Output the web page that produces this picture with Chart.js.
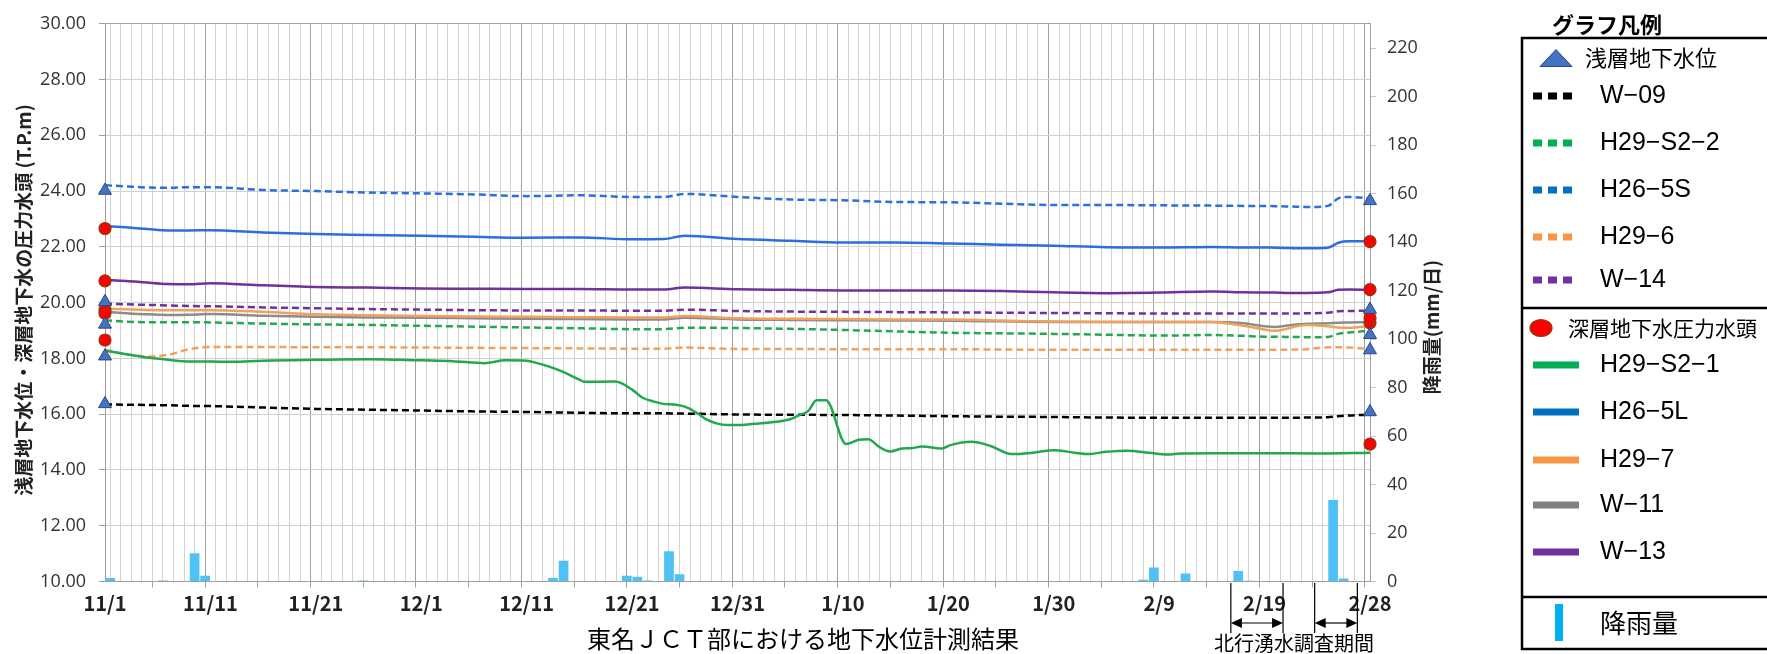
<!DOCTYPE html>
<html><head><meta charset="utf-8">
<script src="https://cdn.jsdelivr.net/npm/chart.js@4"></script>
<style>html,body{margin:0;padding:0;background:#fff;overflow:hidden}canvas{display:block}</style>
</head><body><canvas id="c" width="1767" height="654"></canvas>
<script>
// ---- data (day index: 0 = 11/1) ----
const xTickDays = [0,10,20,30,40,50,60,70,80,90,100,110,120];
const xTickLabels = ['11/1','11/11','11/21','12/1','12/11','12/21','12/31','1/10','1/20','1/30','2/9','2/19','2/28'];
const gridDays = [0,2,4,6,8,10,15,20,25,30,35,40,45,50,53,55,60,65,70,75,80,85,90,95,100,105,108,110,111,112,113,114,116,117,118,120];

// shallow groundwater (dashed)
const w09     = [16.35,16.34,16.33,16.32,16.30,16.29,16.24,16.19,16.16,16.13,16.10,16.08,16.05,16.03,16.03,16.02,15.99,15.98,15.97,15.95,15.93,15.91,15.90,15.88,15.87,15.87,15.87,15.87,15.87,15.87,15.87,15.88,15.89,15.93,15.95,15.99];
const h29s2_2 = [19.37,19.32,19.30,19.30,19.30,19.29,19.25,19.22,19.20,19.17,19.14,19.11,19.08,19.05,19.05,19.10,19.09,19.06,19.02,18.97,18.92,18.90,18.88,18.85,18.82,18.84,18.81,18.78,18.78,18.77,18.77,18.76,18.77,18.88,18.93,18.99];
const h26_5s  = [24.21,24.17,24.13,24.12,24.14,24.14,24.04,24.00,23.95,23.92,23.88,23.82,23.85,23.79,23.79,23.90,23.79,23.70,23.67,23.61,23.60,23.55,23.50,23.50,23.49,23.48,23.47,23.47,23.46,23.45,23.44,23.43,23.47,23.74,23.79,23.74];
const h29_6   = [18.31,18.15,18.07,18.13,18.33,18.41,18.41,18.40,18.40,18.39,18.38,18.37,18.36,18.35,18.35,18.39,18.34,18.34,18.33,18.33,18.33,18.32,18.31,18.31,18.31,18.31,18.31,18.31,18.31,18.31,18.32,18.33,18.40,18.40,18.39,18.34];
const w14     = [19.97,19.94,19.92,19.90,19.88,19.87,19.83,19.80,19.77,19.75,19.73,19.72,19.72,19.71,19.71,19.75,19.70,19.68,19.67,19.66,19.65,19.64,19.63,19.62,19.61,19.61,19.61,19.61,19.61,19.61,19.61,19.62,19.64,19.69,19.70,19.71];

// deep groundwater pressure head (solid)
const h26_5l  = [22.75,22.70,22.64,22.59,22.59,22.60,22.52,22.46,22.43,22.40,22.36,22.33,22.34,22.27,22.28,22.40,22.28,22.22,22.16,22.16,22.12,22.08,22.04,21.99,21.98,22.00,21.98,21.98,21.97,21.96,21.95,21.95,21.97,22.15,22.20,22.20];
const h29_7   = [19.78,19.76,19.74,19.73,19.73,19.73,19.67,19.58,19.55,19.52,19.50,19.49,19.48,19.47,19.47,19.52,19.44,19.42,19.41,19.40,19.40,19.36,19.32,19.31,19.31,19.31,19.17,19.04,18.99,19.05,19.15,19.20,19.15,19.11,19.10,19.16];
const w11     = [19.67,19.62,19.58,19.56,19.57,19.59,19.53,19.49,19.47,19.46,19.44,19.42,19.41,19.40,19.40,19.46,19.40,19.38,19.37,19.36,19.35,19.33,19.31,19.31,19.31,19.31,19.26,19.15,19.13,19.17,19.22,19.24,19.26,19.28,19.29,19.31];
const w13     = [20.82,20.78,20.72,20.67,20.66,20.70,20.62,20.56,20.54,20.51,20.50,20.49,20.49,20.47,20.47,20.54,20.48,20.46,20.44,20.44,20.44,20.42,20.37,20.34,20.36,20.40,20.37,20.36,20.36,20.35,20.35,20.35,20.37,20.46,20.47,20.46];
const h29s2_1Days = [0,2,4,6,8,10,12,15,20,25,28,30,33,36,38,40,41,43,45,45.5,48.4,50,51,52,53,54,55,56,57,58,59,60,62,65,66,66.7,67.5,68.4,70.3,71.5,72.4,73.5,74.5,75.6,76.5,77.5,79.4,80.2,82.2,84,86,88,90,92,93.2,95,97,99,100.8,102,105,110,115,120];
const h29s2_1     = [18.28,18.15,18.03,17.95,17.89,17.89,17.88,17.92,17.95,17.97,17.95,17.93,17.90,17.83,17.93,17.92,17.83,17.59,17.24,17.16,17.17,16.88,16.59,16.46,16.37,16.35,16.27,16.08,15.82,15.67,15.61,15.61,15.67,15.82,15.99,16.11,16.50,16.50,14.93,15.08,15.10,14.81,14.66,14.77,14.78,14.84,14.77,14.89,15.01,14.86,14.57,14.62,14.71,14.62,14.57,14.65,14.69,14.62,14.55,14.59,14.60,14.60,14.59,14.62];

// rainfall (mm/day)
const rainDays = [0,5,8,9,24,42,43,49,50,51,53,54,98,99,102,107,108,116,117];
const rainVals = [1.4,0.4,11.6,2.4,0.4,1.4,8.6,2.4,2.0,0.4,12.5,3.0,0.7,5.8,3.3,4.3,0.3,33.6,1.2];

// start / end markers
const shallowNames = ['W-09','H29-S2-2','H26-5S','H29-6','W-14'];
const deepNames = ['H29-S2-1','H26-5L','H29-7','W-11','W-13'];
const shallowStart = [16.37,19.22,24.02,18.08,20.03];
const shallowEnd   = [16.08,18.85,23.65,18.30,19.75];
const deepStart    = [18.66,22.66,19.75,19.62,20.78];
const deepEnd      = [14.93,22.19,19.28,19.45,20.47];
const surveyPeriods = [[106.8,111.75],[114.75,118.8]];

const shallowSeries = [w09,h29s2_2,h26_5s,h29_6,w14];
const shallowLineColors = ['#000000','#22A94F','#2A6FDB','#F2A15C','#7030A0'];
const shallowLegendColors = ['#000000','#00B050','#0070C0','#F79646','#7030A0'];
const deepLineColors = ['#22A94F','#2A6FDB','#F2A15C','#8C8C8C','#7030A0'];
const deepLegendColors = ['#00B050','#0070C0','#F79646','#808080','#7030A0'];

const pts = (days, vals) => days.map((d,i)=>({x:d,y:vals[i]}));

const datasets = [];
datasets.push({type:'line', label:'浅層地下水位', showLine:false, order:0, clip:false,
  data: shallowStart.map(v=>({x:0,y:v})).concat(shallowEnd.map(v=>({x:120,y:v}))),
  pointStyle:'triangle', pointRadius:7.5, backgroundColor:'#4472C4', borderColor:'#2F4B7C', borderWidth:1});
datasets.push({type:'line', label:'深層地下水圧力水頭', showLine:false, order:0, clip:false,
  data: deepStart.map(v=>({x:0,y:v})).concat(deepEnd.map(v=>({x:120,y:v}))),
  pointStyle:'circle', pointRadius:6, backgroundColor:'#FF0000', borderColor:'#8B3A10', borderWidth:1.2});
const deepSeries = [null,h26_5l,h29_7,w11,w13];
deepNames.forEach((n,i)=>{
  const data = i===0 ? pts(h29s2_1Days,h29s2_1) : pts(gridDays,deepSeries[i]);
  datasets.push({type:'line', label:n, data, borderColor:deepLineColors[i], borderWidth:2.5, pointRadius:0,
    cubicInterpolationMode:'monotone', order:2, fill:false});
});
shallowNames.forEach((n,i)=>{
  datasets.push({type:'line', label:n, data:pts(gridDays,shallowSeries[i]), borderColor:shallowLineColors[i],
    borderWidth:2.5, borderDash:[7,4], pointRadius:0, cubicInterpolationMode:'monotone', order:3, fill:false});
});
datasets.push({type:'bar', label:'降雨量', yAxisID:'y2', order:10,
  data: rainDays.map((d,i)=>({x:d+0.5,y:rainVals[i]})),
  backgroundColor:'#4FC1F5', borderWidth:0, barPercentage:0.92, categoryPercentage:1.0});

const DARK='#a0a0a0', LIGHT='#d2d2d2';
const fontJP = '"Noto Sans CJK JP"';

const overlay = {
  id:'overlay',
  afterDraw(chart){
    const ctx = chart.ctx, xs = chart.scales.x;
    ctx.save();
    ctx.fillStyle='#000';
    ctx.save(); ctx.translate(24,300); ctx.rotate(-Math.PI/2);
    ctx.font = 'bold 19px '+fontJP; ctx.textAlign='center'; ctx.textBaseline='middle';
    ctx.fillStyle='#222'; ctx.fillText('浅層地下水位・深層地下水の圧力水頭 (T.P.m)',0,0); ctx.restore();
    ctx.save(); ctx.translate(1432,327); ctx.rotate(-Math.PI/2);
    ctx.font = 'bold 19px '+fontJP; ctx.textAlign='center'; ctx.textBaseline='middle';
    ctx.fillStyle='#222'; ctx.fillText('降雨量(mm/日)',0,0); ctx.restore();
    ctx.font = '24px '+fontJP; ctx.textAlign='center'; ctx.textBaseline='middle';
    ctx.fillText('東名ＪＣＴ部における地下水位計測結果',803,639);
    ctx.strokeStyle='#000'; ctx.lineWidth=1.2;
    surveyPeriods.forEach(([a,b])=>{
      const xa = xs.getPixelForValue(a), xb = xs.getPixelForValue(b);
      ctx.beginPath(); ctx.moveTo(xa,583); ctx.lineTo(xa,633); ctx.moveTo(xb,583); ctx.lineTo(xb,633); ctx.stroke();
      const y=623;
      ctx.beginPath(); ctx.moveTo(xa+8,y); ctx.lineTo(xb-8,y); ctx.stroke();
      ctx.beginPath(); ctx.moveTo(xa,y); ctx.lineTo(xa+11,y-5); ctx.lineTo(xa+11,y+5); ctx.closePath(); ctx.fill();
      ctx.beginPath(); ctx.moveTo(xb,y); ctx.lineTo(xb-11,y-5); ctx.lineTo(xb-11,y+5); ctx.closePath(); ctx.fill();
    });
    ctx.font = '20px '+fontJP; ctx.textAlign='center'; ctx.textBaseline='middle';
    ctx.fillText('北行湧水調査期間',1294,643);

    ctx.font = 'bold 22px '+fontJP; ctx.textAlign='left'; ctx.textBaseline='middle';
    ctx.fillText('グラフ凡例',1552,25);
    ctx.lineWidth=2.5; ctx.strokeStyle='#000';
    ctx.strokeRect(1522,38,260,611);
    ctx.beginPath(); ctx.moveTo(1522,308); ctx.lineTo(1767,308); ctx.moveTo(1522,597); ctx.lineTo(1767,597); ctx.stroke();
    ctx.beginPath(); ctx.moveTo(1540,66.5); ctx.lineTo(1572,66.5); ctx.lineTo(1556,49.5); ctx.closePath();
    ctx.fillStyle='#4472C4'; ctx.fill(); ctx.lineWidth=1; ctx.strokeStyle='#2F4B7C'; ctx.stroke();
    ctx.fillStyle='#000'; ctx.font='22px '+fontJP; ctx.fillText('浅層地下水位',1585,58);
    const sRows=[96,143,190,237,280];
    shallowNames.forEach((n,i)=>{
      const y=sRows[i];
      ctx.fillStyle=shallowLegendColors[i];
      [1533,1548,1563].forEach(x=>ctx.fillRect(x,y-3.5,9,7));
      ctx.fillStyle='#000'; ctx.font='25px "Liberation Sans"';
      ctx.fillText(n.replace(/-/g,'\u2212'),1600,y);
    });
    ctx.beginPath(); ctx.ellipse(1541,328,11,8.5,0,0,Math.PI*2);
    ctx.fillStyle='#FF0000'; ctx.fill(); ctx.lineWidth=1.2; ctx.strokeStyle='#8B3A10'; ctx.stroke();
    ctx.fillStyle='#000'; ctx.font='21px '+fontJP; ctx.fillText('深層地下水圧力水頭',1568,328);
    const dRows=[365,412,460,505,552];
    deepNames.forEach((n,i)=>{
      const y=dRows[i];
      ctx.fillStyle=deepLegendColors[i]; ctx.fillRect(1533,y-3.5,46,7);
      ctx.fillStyle='#000'; ctx.font='25px "Liberation Sans"';
      ctx.fillText(n.replace(/-/g,'\u2212'),1600,y);
    });
    ctx.fillStyle='#00B0F0'; ctx.fillRect(1555,604,8,37);
    ctx.fillStyle='#000'; ctx.font='26px '+fontJP; ctx.fillText('降雨量',1600,623);
    ctx.restore();
  }
};

new Chart(document.getElementById('c'), {
  type:'line',
  data:{datasets},
  options:{
    responsive:false, animation:false, devicePixelRatio:1,
    layout:{padding:{left:0,right:317,top:18,bottom:22.5}},
    plugins:{legend:{display:false}, tooltip:{enabled:false}},
    scales:{
      x:{type:'linear', min:0, max:120, offset:false,
        afterBuildTicks(axis){ const t=[]; for(let d=0; d<=120; d++) t.push({value:d}); axis.ticks=t; },
        afterFit(s){ s.height=50; },
        grid:{color:c=>(c.tick && c.tick.value%10===0)?DARK:LIGHT, lineWidth:1, drawTicks:true, tickLength:6,
          tickColor:c=>(c.tick && c.tick.value%5===0)?DARK:'rgba(0,0,0,0)'},
        border:{display:true,color:DARK},
        ticks:{autoSkip:false, maxRotation:0, minRotation:0, padding:4, color:'#222',
          font:{family:fontJP, size:20, weight:'bold'},
          callback:(v)=>{ const k=xTickDays.indexOf(v); return k>=0?xTickLabels[k]:''; }}
      },
      y:{type:'linear', position:'left', min:10, max:30,
        afterFit(s){ s.width=105; },
        grid:{color:c=>(c.tick && c.tick.value===30)?DARK:'#d0d0d0', tickLength:6, tickColor:DARK},
        border:{display:true,color:DARK},
        ticks:{stepSize:2, padding:13, color:'#333', font:{family:'"Open Sans"', size:18},
          callback:v=>Number(v).toFixed(2)}
      },
      y2:{type:'linear', position:'right', min:0, max:230,
        afterBuildTicks(axis){ const t=[]; for(let v=0; v<=220; v+=20) t.push({value:v}); axis.ticks=t; },
        afterFit(s){ s.width=80; },
        grid:{drawOnChartArea:false, tickLength:6, tickColor:'#c8c8c8'},
        border:{display:true,color:DARK},
        ticks:{padding:11, color:'#333', font:{family:'"Open Sans"', size:18}}
      }
    }
  },
  plugins:[overlay]
});
</script>
</body></html>
